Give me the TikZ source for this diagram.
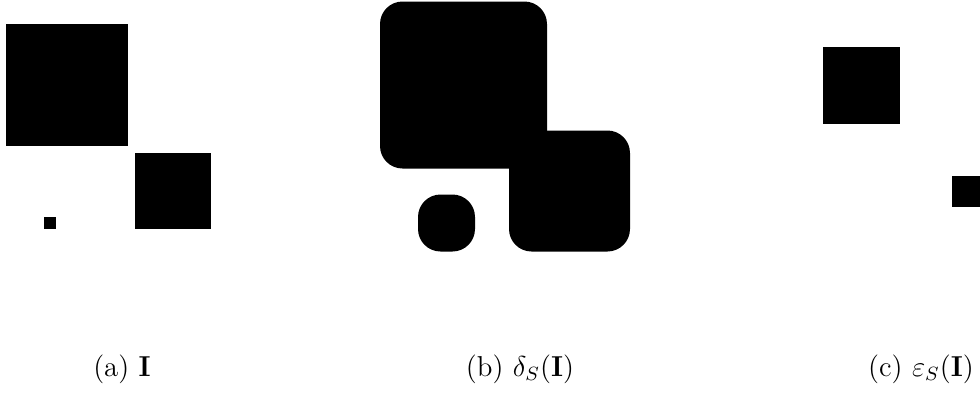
\documentclass[tikz,border=0pt]{standalone}
\usepackage{amsmath}
\usepackage{amssymb}
\usepackage{tikz}
\usetikzlibrary{positioning}

\begin{document}
\begin{tikzpicture}[
  x=0.01465cm,y=-0.01465cm,
  font=\large,
  blob/.style={fill=black},
  dilblob/.style={fill=black,rounded corners=0.33cm},
  subcap/.style={anchor=base,inner sep=0pt},
]
  \useasboundingbox (0,0) rectangle (980,392);

  % (a) original image
  \fill[blob] (6,24) rectangle (128,146);
  \fill[blob] (135,153) rectangle (211,229);
  \fill[blob] (44,217) rectangle (56,229);

  % (b) dilation
  \begin{scope}[shift={(396.5,0)}]
    \fill[dilblob] (-16.5,1.5) rectangle (150.5,168.5);
    \fill[dilblob] (112.5,130.5) rectangle (233.5,251.5);
    \fill[dilblob] (21.5,194.5) rectangle (78.5,251.5);
  \end{scope}

  % (c) erosion
  \begin{scope}[shift={(794.5,0)}]
    \fill[blob] (28.5,46.5) rectangle (105.5,123.5);
    \fill[blob] (157.5,175.5) rectangle (188.5,206.5);
  \end{scope}

  \node[subcap] (capa) at (122,376) {(a) $\mathbf{I}$};
  \node[subcap] (capb) at (520,376) {(b) $\delta_S(\mathbf{I})$};
  \node[subcap] (capc) at (921,376) {(c) $\varepsilon_S(\mathbf{I})$};
\end{tikzpicture}
\end{document}
